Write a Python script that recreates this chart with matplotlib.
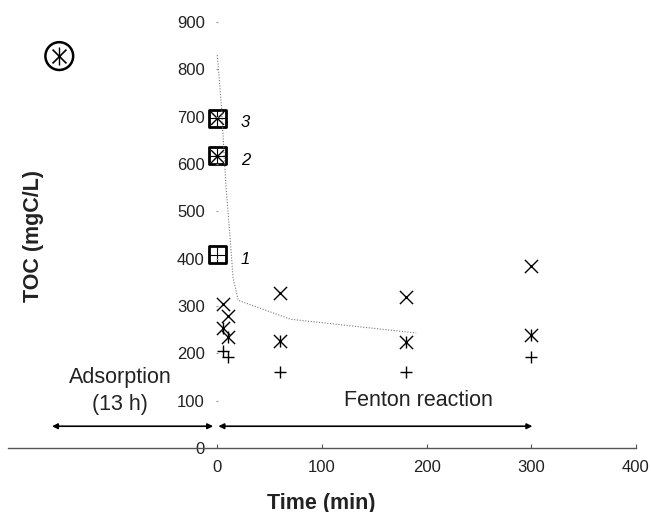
import numpy as np
import matplotlib
matplotlib.use('Agg')
import matplotlib.pyplot as plt

plt.rcParams['font.family'] = ['Liberation Sans', 'DejaVu Sans']

# time (min) of the Fenton samples
t_pts = [5, 10, 60, 180, 300]
toc_x = [305, 278, 327, 318, 385]       # x markers
toc_star = [253, 234, 226, 223, 239]    # asterisk markers
toc_plus = [204, 193, 161, 161, 193]    # + markers

# initial TOC after adsorption (squares at t=0)
sq_y = [408, 617, 697]
sq_lab = ['1', '2', '3']

# starting solution (circle)
init_t, init_toc = -151, 828

# dotted curve
curve_t = [0, 4, 8, 12, 15, 20, 70, 190]
curve_toc = [830, 720, 560, 450, 360, 312, 272, 243]

fig = plt.figure(figsize=(6.51, 5.12), dpi=100)
ax = fig.add_axes([8/651, 1-448/512, 628/651, 426/512])
ax.set_xlim(-200, 400)
ax.set_ylim(0, 900)

for s in ['top', 'right']:
    ax.spines[s].set_visible(False)
ax.spines['left'].set_position(('data', 0))
ax.spines['left'].set_linewidth(0)
ax.spines['bottom'].set_color('#555555')
ax.spines['bottom'].set_linewidth(1.0)

ax.set_xticks([0, 100, 200, 300, 400])
ax.set_yticks(np.arange(0, 901, 100))
ax.tick_params(axis='x', direction='in', length=3, pad=9, labelsize=12, colors='#555555', labelcolor='#222222')
ax.tick_params(axis='y', direction='inout', length=2, pad=8, labelsize=12, colors='#999999', labelcolor='#222222')

ax.plot(curve_t, curve_toc, ls=(0, (1, 1.5)), color='#777777', lw=0.8)

ax.scatter(t_pts, toc_x, marker='x', s=90, c='k', lw=1.0)
ax.scatter(t_pts, toc_star, marker='x', s=90, c='k', lw=1.0)
ax.scatter(t_pts, toc_star, marker='|', s=70, c='k', lw=1.0)
ax.scatter(t_pts, toc_plus, marker='+', s=75, c='k', lw=1.0)

sq_t = [0] * len(sq_y)
ax.scatter(sq_t, sq_y, marker='s', s=150, facecolors='none', edgecolors='k', lw=2.0)
ax.scatter(sq_t[1:], sq_y[1:], marker='x', s=85, c='k', lw=1.0)
ax.scatter(sq_t, sq_y, marker='+', s=120, c='k', lw=0.8)
for y, lab in zip(sq_y, sq_lab):
    ax.text(27, y - 10, lab, style='italic', fontsize=12, ha='center', va='center')

ax.scatter([init_t], [init_toc], marker='o', s=400, facecolors='none', edgecolors='k', lw=1.8)
ax.scatter([init_t], [init_toc], marker='x', s=100, c='k', lw=1.2)
ax.scatter([init_t], [init_toc], marker='|', s=150, c='k', lw=1.0)

arr = dict(arrowstyle='<|-|>', color='k', lw=1.2, mutation_scale=8, shrinkA=0, shrinkB=0)
ax.annotate('', xy=(-158, 46), xytext=(-4, 46), arrowprops=arr)
ax.annotate('', xy=(1, 46), xytext=(301, 46), arrowprops=arr)

ax.text(-93, 148, 'Adsorption', fontsize=15.5, ha='center', va='center', color='#222222')
ax.text(-93, 91, '(13 h)', fontsize=15.5, ha='center', va='center', color='#222222')
ax.text(192, 101, 'Fenton reaction', fontsize=15.5, ha='center', va='center', color='#222222')

fig.text(321/651, 1-503/512, 'Time (min)', fontsize=15.5, fontweight='bold', ha='center', va='center', color='#222222')
fig.text(33/651, 1-236/512, 'TOC (mgC/L)', fontsize=15.5, fontweight='bold', rotation=90, ha='center', va='center', color='#222222')

fig.savefig('out.png', dpi=100)
